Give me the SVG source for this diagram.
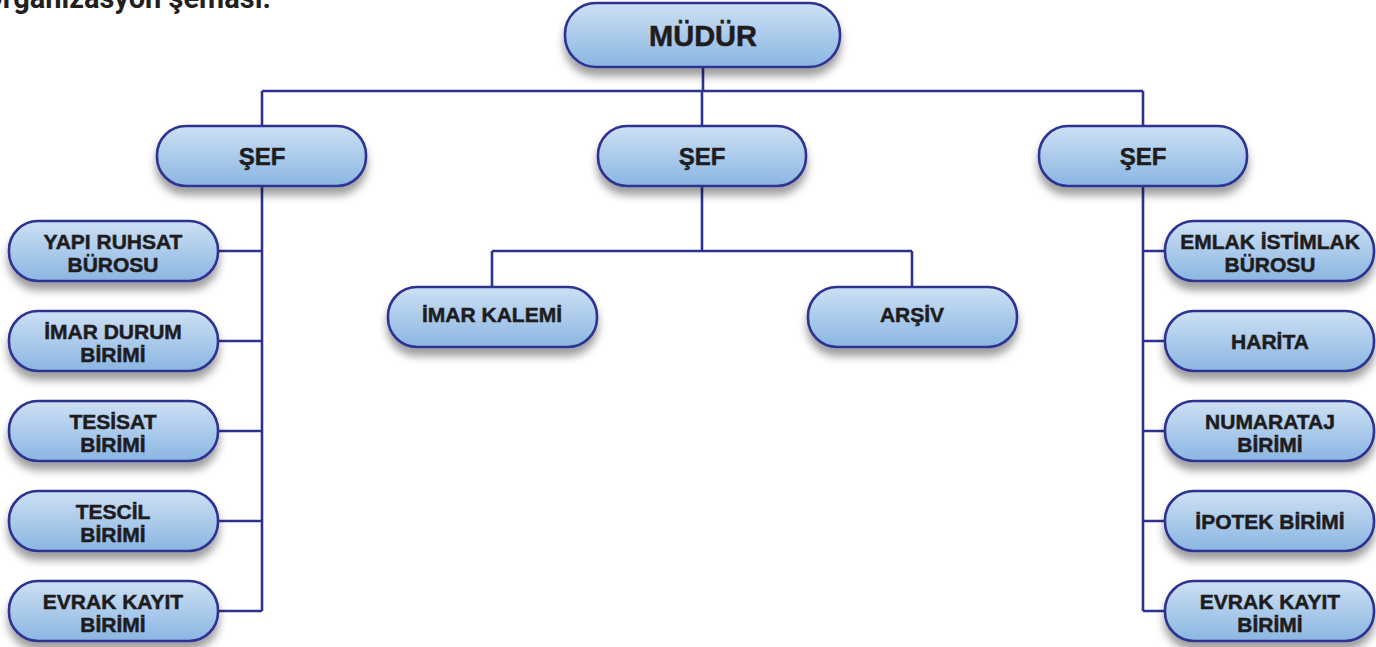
<svg xmlns="http://www.w3.org/2000/svg" width="1376" height="647" viewBox="0 0 1376 647">
  <style>
    .box { fill: url(#boxFill); stroke: #2d3290; stroke-width: 2.6; filter: url(#shadow); }
    .wire { fill: none; stroke: #2d3290; stroke-width: 2.6; }
    .lbl { font-family: "Liberation Sans", Arial, sans-serif; font-weight: bold; fill: #1f1c1d; stroke: #1f1c1d; stroke-width: 0.5; text-anchor: middle; }
    .s21 { font-size: 21px; }
    .s24 { font-size: 24px; }
    .s29 { font-size: 29px; }
    .title { font-family: Roboto, "Liberation Sans", sans-serif; font-weight: bold; font-size: 29px; fill: #231f20; text-anchor: end; }
  </style>
  <defs>
    <linearGradient id="boxFill" x1="0" y1="0" x2="0" y2="1">
      <stop offset="0" stop-color="#cde0f4"/>
      <stop offset="1" stop-color="#8ab6e2"/>
    </linearGradient>
    <filter id="shadow" x="-10%" y="-20%" width="120%" height="170%">
      <feDropShadow dx="0" dy="8" stdDeviation="4.5" flood-color="#000" flood-opacity="0.38"/>
    </filter>
  </defs>

  <rect width="1376" height="647" fill="#ffffff"/>

  <text class="title" x="271" y="8">Organizasyon şeması.</text>

  <!-- connectors -->
  <g id="connectors">
    <path class="wire" d="M703 67 V91 M262 91 H1143 M262 91 V126 M702 91 V126 M1143 91 V126"/>
    <!-- left branch -->
    <path class="wire" d="M262 186 V611 M218 251 H262 M218 341 H262 M218 431 H262 M218 521 H262 M218 611 H262"/>
    <!-- middle branch -->
    <path class="wire" d="M702 186 V251 M492 251 H912 M492 251 V287 M912 251 V287"/>
    <!-- right branch -->
    <path class="wire" d="M1143 186 V611 M1143 251 H1165 M1143 341 H1165 M1143 431 H1165 M1143 521 H1165 M1143 611 H1165"/>
  </g>

  <g id="mudur">
    <rect class="box" x="565" y="3" width="275" height="64" rx="31"/>
    <text class="lbl s29" x="703" y="46">MÜDÜR</text>
  </g>

  <g id="sef-left">
    <rect class="box" x="157" y="126" width="209" height="60" rx="29"/>
    <text class="lbl s24" x="262" y="165">ŞEF</text>
  </g>
  <g id="sef-middle">
    <rect class="box" x="598" y="126" width="208" height="60" rx="29"/>
    <text class="lbl s24" x="702" y="165">ŞEF</text>
  </g>
  <g id="sef-right">
    <rect class="box" x="1039" y="126" width="208" height="60" rx="29"/>
    <text class="lbl s24" x="1143" y="165">ŞEF</text>
  </g>

  <!-- left column -->
  <g id="yapi-ruhsat">
    <rect class="box" x="9" y="221" width="209" height="60" rx="29"/>
    <text class="lbl s21" x="113" y="249">YAPI RUHSAT</text>
    <text class="lbl s21" x="113" y="272">BÜROSU</text>
  </g>
  <g id="imar-durum">
    <rect class="box" x="9" y="311" width="209" height="60" rx="29"/>
    <text class="lbl s21" x="113" y="339">İMAR DURUM</text>
    <text class="lbl s21" x="113" y="362">BİRİMİ</text>
  </g>
  <g id="tesisat">
    <rect class="box" x="9" y="401" width="209" height="60" rx="29"/>
    <text class="lbl s21" x="113" y="429">TESİSAT</text>
    <text class="lbl s21" x="113" y="452">BİRİMİ</text>
  </g>
  <g id="tescil">
    <rect class="box" x="9" y="491" width="209" height="60" rx="29"/>
    <text class="lbl s21" x="113" y="519">TESCİL</text>
    <text class="lbl s21" x="113" y="542">BİRİMİ</text>
  </g>
  <g id="evrak-left">
    <rect class="box" x="9" y="581" width="209" height="60" rx="29"/>
    <text class="lbl s21" x="113" y="609">EVRAK KAYIT</text>
    <text class="lbl s21" x="113" y="632">BİRİMİ</text>
  </g>

  <!-- middle -->
  <g id="imar-kalemi">
    <rect class="box" x="388" y="287" width="209" height="60" rx="29"/>
    <text class="lbl s21" x="492" y="322">İMAR KALEMİ</text>
  </g>
  <g id="arsiv">
    <rect class="box" x="808" y="287" width="209" height="60" rx="29"/>
    <text class="lbl s21" x="912" y="322">ARŞİV</text>
  </g>

  <!-- right column -->
  <g id="emlak">
    <rect class="box" x="1165" y="221" width="209" height="60" rx="29"/>
    <text class="lbl s21" x="1270" y="249">EMLAK İSTİMLAK</text>
    <text class="lbl s21" x="1270" y="272">BÜROSU</text>
  </g>
  <g id="harita">
    <rect class="box" x="1165" y="311" width="209" height="60" rx="29"/>
    <text class="lbl s21" x="1270" y="349">HARİTA</text>
  </g>
  <g id="numarataj">
    <rect class="box" x="1165" y="401" width="209" height="60" rx="29"/>
    <text class="lbl s21" x="1270" y="429">NUMARATAJ</text>
    <text class="lbl s21" x="1270" y="452">BİRİMİ</text>
  </g>
  <g id="ipotek">
    <rect class="box" x="1165" y="491" width="209" height="60" rx="29"/>
    <text class="lbl s21" x="1270" y="529">İPOTEK BİRİMİ</text>
  </g>
  <g id="evrak-right">
    <rect class="box" x="1165" y="581" width="209" height="60" rx="29"/>
    <text class="lbl s21" x="1270" y="609">EVRAK KAYIT</text>
    <text class="lbl s21" x="1270" y="632">BİRİMİ</text>
  </g>
</svg>
